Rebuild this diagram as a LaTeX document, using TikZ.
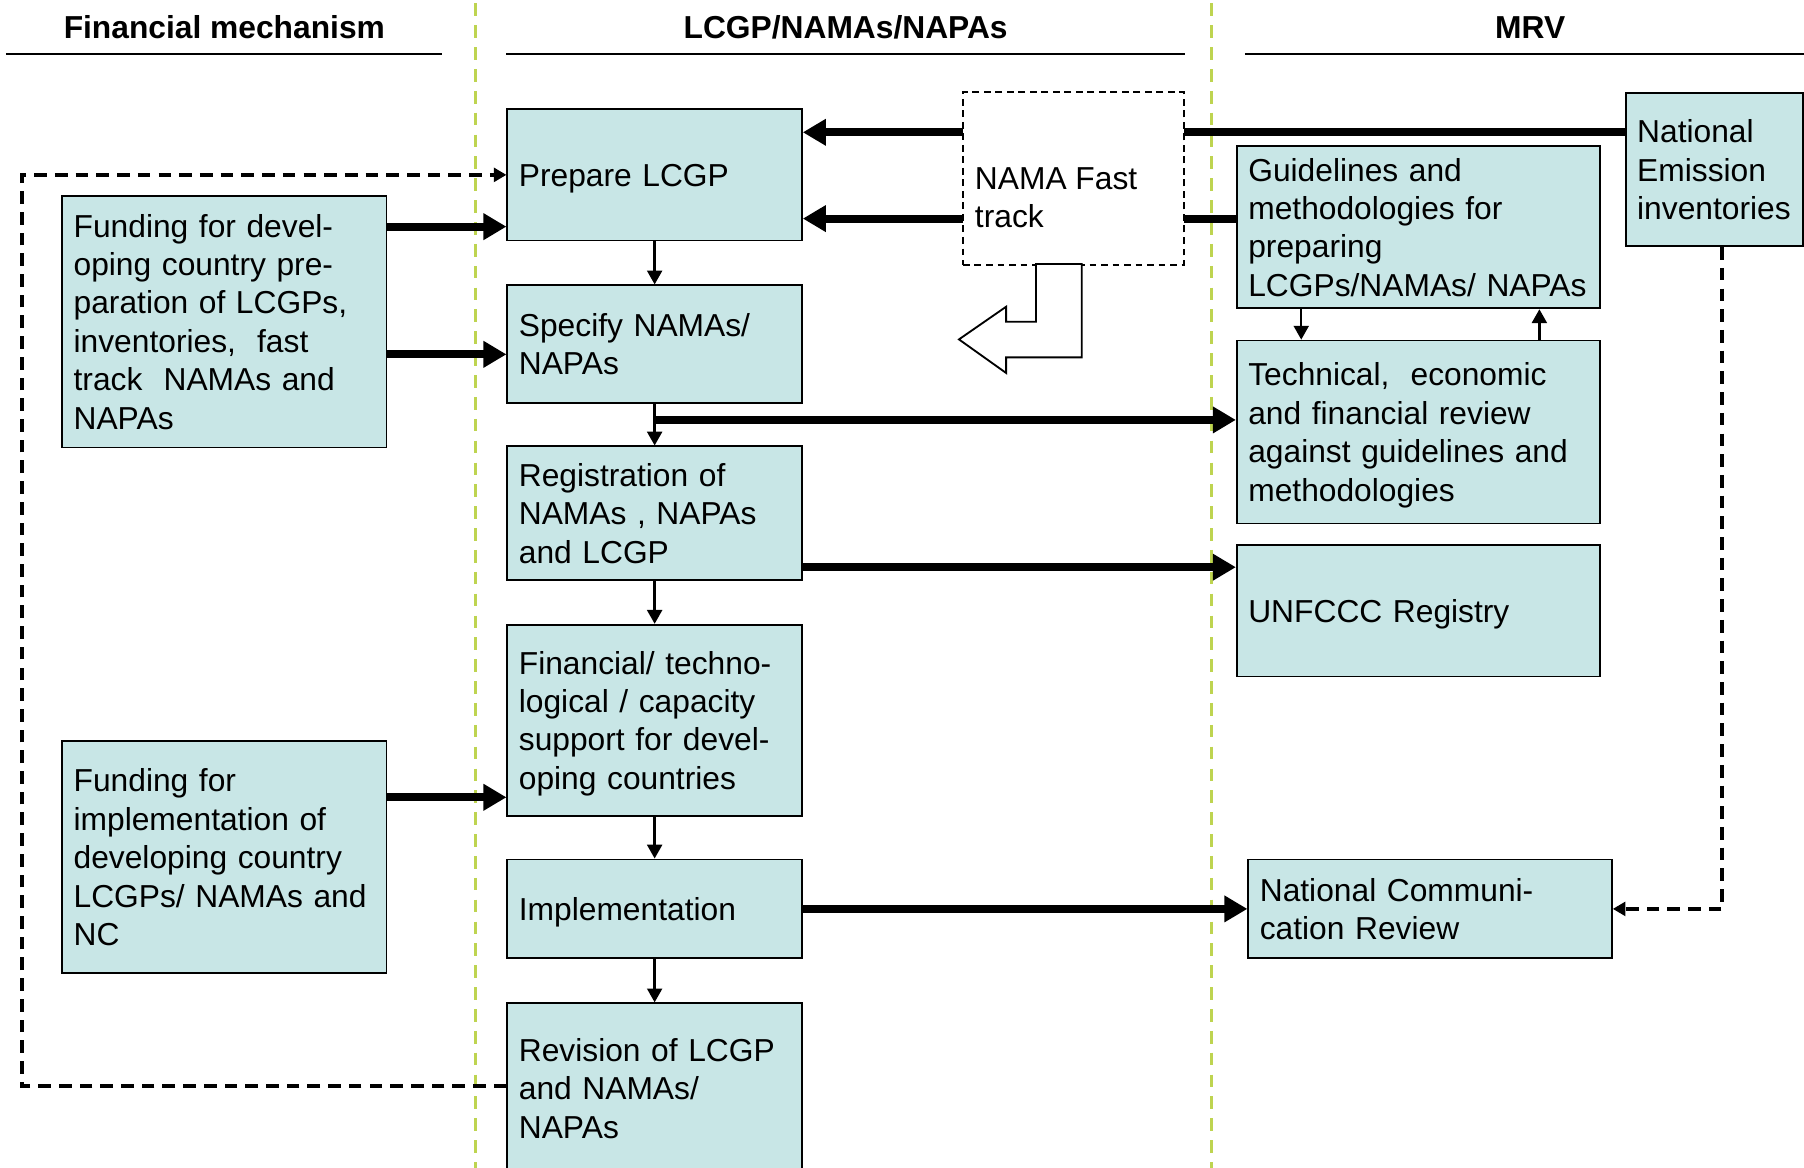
\documentclass[tikz,border=0pt]{standalone}
\usepackage{fontspec}
\setmainfont{Liberation Sans}
\usetikzlibrary{arrows.meta}
\definecolor{boxfill}{RGB}{200,230,230}
\definecolor{lanegreen}{RGB}{190,212,80}
\newcommand\dfont{\fontsize{13.8pt}{16.7pt}\selectfont}
\hyphenpenalty=10000
\exhyphenpenalty=10000
\tikzset{
  box/.style={draw=black, line width=0.8pt, fill=boxfill, rectangle, align=left,
    inner xsep=5pt, inner ysep=0pt, font=\dfont,
    execute at begin node={\rule{0pt}{13pt}},
    execute at end node={\rule[-3pt]{0pt}{3pt}}},
  cw/.style={minimum width=128pt, text width=118pt},
  lw/.style={minimum width=141pt, text width=131pt},
  rw/.style={minimum width=158pt, text width=148pt},
  hdr/.style={font=\dfont\bfseries, inner sep=0pt},
  thickarrow/.style={line width=3.5pt, -{Triangle[length=10pt,width=11pt]}},
  thinarrow/.style={line width=1pt, -{Triangle[length=6pt,width=6.5pt]}},
  dasharrow/.style={line width=1.6pt, dash pattern=on 5.5pt off 3.5pt,
    -{Triangle[length=5.5pt,width=6pt]}},
  lane/.style={draw=lanegreen, line width=1.2pt, dash pattern=on 5.5pt off 4pt},
  rule/.style={line width=0.8pt},
}
\begin{document}
\begin{tikzpicture}[x=0.5pt,y=-0.5pt]
\useasboundingbox (0,0) rectangle (1568,1015);
\clip (0,0) rectangle (1568,1015);

% lanes
\draw[lane] (413,3) -- (413,1015);
\draw[lane] (1053,3) -- (1053,1015);

% headers
\node[hdr] (h1) at (195,24) {Financial mechanism};
\node[hdr] (h2) at (735,24) {LCGP/NAMAs/NAPAs};
\node[hdr] (h3) at (1330,24) {MRV};
\draw[rule] (5,47) -- (384,47);
\draw[rule] (440,47) -- (1030,47);
\draw[rule] (1082,47) -- (1568,47);

% centre column
\node[box, cw, minimum height=57pt] (prep) at (569,152) {Prepare LCGP};
\node[box, cw, minimum height=51pt] (spec) at (569,299) {Specify NAMAs/\\NAPAs};
\node[box, cw, minimum height=58pt] (reg) at (569,446) {Registration of\\\mbox{NAMAs , NAPAs}\\and LCGP};
\node[box, cw, minimum height=83pt] (fin) at (569,626) {Financial/ techno-\\logical / capacity\\support for devel-\\oping countries};
\node[box, cw, minimum height=43pt] (impl) at (569,790) {Implementation};
\node[box, cw, minimum height=74pt] (rev) at (569,946) {Revision of LCGP\\and NAMAs/\\NAPAs};

% left column
\node[box, lw, minimum height=109.5pt] (fund1) at (195,279.5) {Funding for devel-\\oping country pre-\\paration of LCGPs,\\\mbox{inventories,\ \ fast}\\\mbox{track\ \ NAMAs and}\\NAPAs};
\node[box, lw, minimum height=101pt] (fund2) at (195,745) {Funding for\\implementation of\\developing country\\\mbox{LCGPs/ NAMAs and}\\NC};

% right column
\node[box, rw, minimum height=70.5pt] (guide) at (1233,197.5) {Guidelines and\\methodologies for\\preparing\\\mbox{LCGPs/NAMAs/ NAPAs}};
\node[box, rw, minimum height=79.5pt] (tech) at (1233,375.5) {\mbox{Technical,\ \ economic}\\and financial review\\\mbox{against guidelines and}\\methodologies};
\node[box, rw, minimum height=57pt] (unf) at (1233,531) {UNFCCC Registry};
\node[box, minimum width=77pt, text width=67pt, minimum height=66.5pt] (nei) at (1490,147.5) {National\\Emission\\inventories};
\node[box, rw, minimum height=43pt] (ncr) at (1243,790) {National Communi-\\cation Review};

% lines passing behind the fast track box
\draw[thickarrow] (nei.west |- 0,115) -- (prep.east |- 0,115);
\draw[thickarrow] (guide.west |- 0,190) -- (prep.east |- 0,190);

% fast track box
\node[draw=black, line width=0.8pt, dash pattern=on 3pt off 2pt, fill=white,
  minimum width=96pt, minimum height=75pt, inner sep=0pt] (fast) at (933,155) {};
\node[font=\dfont, align=left, inner sep=0pt, anchor=west] (fasttxt) at (847,172) {NAMA Fast\\track};
\draw[line width=0.8pt, fill=white, line join=miter]
  (900.5,229.5) -- (900.5,279.6) -- (874.5,279.6) -- (874.5,266.6) -- (833.5,295)
  -- (874.5,324.2) -- (874.5,310.6) -- (940.2,310.6) -- (940.2,229.5) -- cycle;

% funding arrows
\draw[thickarrow] (fund1.east |- 0,197) -- (prep.west |- 0,197);
\draw[thickarrow] (fund1.east |- 0,308) -- (spec.west |- 0,308);
\draw[thickarrow] (fund2.east |- 0,693) -- (fin.west |- 0,693);

% centre flow
\draw[thinarrow] (prep.south) -- (spec.north);
\draw[thinarrow] (spec.south) -- (reg.north);
\draw[thinarrow] (reg.south) -- (fin.north);
\draw[thinarrow] (fin.south) -- (impl.north);
\draw[thinarrow] (impl.south) -- (rev.north);

% to MRV
\coordinate (j) at (spec.south |- 0,365);
\draw[thickarrow] (j) -- (tech.west |- 0,365);
\draw[thickarrow] (reg.east |- 0,493) -- (unf.west |- 0,493);
\draw[thickarrow] (impl.east) -- (ncr.west);

% guidelines <-> review
\draw[thinarrow] (guide.south -| 1131,0) -- (tech.north -| 1131,0);
\draw[thinarrow] (tech.north -| 1338,0) -- (guide.south -| 1338,0);

% dashed feedback loops
\coordinate (loopl) at (19,152);
\draw[dasharrow] (rev.west |- 0,944) -| (loopl) -- (prep.west |- 0,152);
\draw[dasharrow] (nei.south -| 1497,0) |- (ncr.east);
\end{tikzpicture}
\end{document}
